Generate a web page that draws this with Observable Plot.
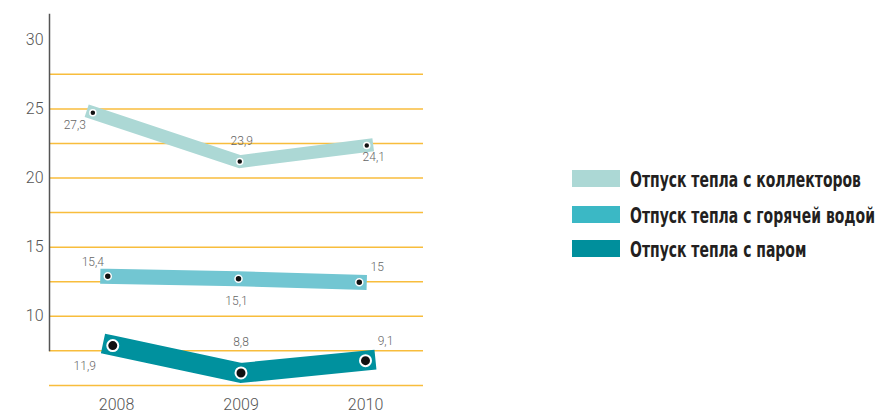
<!DOCTYPE html>
<html>
<head>
<meta charset="utf-8">
<script src="https://cdn.jsdelivr.net/npm/d3@7"></script>
<script src="https://cdn.jsdelivr.net/npm/@observablehq/plot@0.6"></script>
<style>
  body { margin: 0; background: #fff; }
  #wrap { position: relative; width: 881px; height: 413px; overflow: hidden; }
  #legend { position: absolute; left: 572px; top: 0; }
  .row { position: absolute; left: 0; white-space: nowrap; }
  .sw { position: absolute; left: 0; width: 48px; height: 17px; }
  .lab { position: absolute; left: 58px; font-family: "Liberation Sans Narrow", "DejaVu Sans Condensed", "Roboto", sans-serif;
         font-weight: bold; font-size: 22px; color: #231f20; transform-origin: 0 50%; line-height: 1; }
</style>
</head>
<body>
<div id="wrap"></div>
<script>
// ---- data ----
const years = [2008, 2009, 2010];
const seriesNames = ["Отпуск тепла с коллекторов", "Отпуск тепла с горячей водой", "Отпуск тепла с паром"];
const seriesColors = ["#acd8d5", "#72c6d2", "#00919e"];
const legendColors = ["#acd8d5", "#3bb8c5", "#008f9c"];

const collectorsX = [2007.81, 2008.99, 2010.01];
const collectorsY = [24.72, 21.19, 22.35];
const collectorsLabels = ["27,3", "23,9", "24,1"];

const hotWaterX = [2007.93, 2008.98, 2009.95];
const hotWaterY = [12.89, 12.71, 12.46];
const hotWaterLabels = ["15,4", "15,1", "15"];

const steamX = [2007.97, 2009.0, 2010.0];
const steamY = [7.88, 5.90, 6.79];
const steamLabels = ["11,9", "8,8", "9,1"];

const yTicks = [10, 15, 20, 25, 30];
const gridValues = [5, 7.5, 10, 12.5, 15, 17.5, 20, 22.5, 25, 27.5];

// ---- build tables ----
function table(xs, ys, labels) {
  return xs.map((x, i) => ({x, y: ys[i], label: labels[i]}));
}
const series = [
  table(collectorsX, collectorsY, collectorsLabels),
  table(hotWaterX, hotWaterY, hotWaterLabels),
  table(steamX, steamY, steamLabels)
];

// styles per series
const bandWidths = [13, 15, 20];
const dotR = [3, 3.5, 5.5];
const dotStroke = [1.5, 1.5, 2];
// label offsets [dx, dy] per point
const labelOffsets = [
  [[-18, 12], [2, -20], [7, 12]],
  [[-15, -14], [-2, 22], [18, -15]],
  [[-28, 21], [0, -31], [20, -19]]
];

const marks = [
  Plot.ruleY(gridValues, {stroke: "#f8bd3c", strokeWidth: 1.5}),
  Plot.frame({anchor: "left", stroke: "#555", strokeWidth: 1.5}),
  Plot.axisY({ticks: yTicks, tickSize: 0, tickPadding: 6, fontSize: 16, fontWeight: 300, fill: "#555", label: null, tickFormat: d => String(d)}),
  Plot.axisX({ticks: years, tickSize: 0, tickPadding: 48, fontSize: 16, fontWeight: 300, fill: "#555", label: null, tickFormat: d => String(d)})
];
series.forEach((data, s) => {
  marks.push(Plot.line(data, {x: "x", y: "y", stroke: seriesColors[s], strokeWidth: bandWidths[s],
    strokeLinecap: "square", strokeLinejoin: "miter", strokeMiterlimit: 10}));
});
series.forEach((data, s) => {
  marks.push(Plot.dot(data, {x: "x", y: "y", r: dotR[s], fill: "#111", stroke: "white", strokeWidth: dotStroke[s]}));
  data.forEach((d, i) => {
    marks.push(Plot.text([d], {x: "x", y: "y", text: "label", dx: labelOffsets[s][i][0], dy: labelOffsets[s][i][1],
      fontSize: 12, fontWeight: 300, fill: "#666", textAnchor: "middle", lineAnchor: "middle"}));
  });
});

const chart = Plot.plot({
  width: 881,
  height: 413,
  marginLeft: 49,
  marginRight: 458,
  marginTop: 14,
  marginBottom: 63,
  style: {fontFamily: "Roboto, 'DejaVu Sans', sans-serif", background: "white"},
  x: {domain: [2008, 2010], range: [116, 365]},
  y: {domain: [5, 30], range: [384.9, 39.3]},
  marks
});
const wrap = document.getElementById("wrap");
wrap.appendChild(chart);

// ---- legend ----
const legend = document.createElement("div");
legend.id = "legend";
const rowTops = [170, 206, 240];
const labs = [];
seriesNames.forEach((name, i) => {
  const row = document.createElement("div");
  row.className = "row";
  row.style.top = rowTops[i] + "px";
  const sw = document.createElement("div");
  sw.className = "sw";
  sw.style.background = legendColors[i];
  const lab = document.createElement("span");
  lab.className = "lab";
  lab.textContent = name;
  lab.style.top = "-1px";
  row.appendChild(sw);
  row.appendChild(lab);
  legend.appendChild(row);
  labs.push(lab);
});
wrap.appendChild(legend);
// fit the widest label to the reference width (245px)
const w = labs[1].getBoundingClientRect().width;
const k = 245 / w;
labs.forEach(l => l.style.transform = `scaleX(${k})`);
</script>
</body>
</html>
